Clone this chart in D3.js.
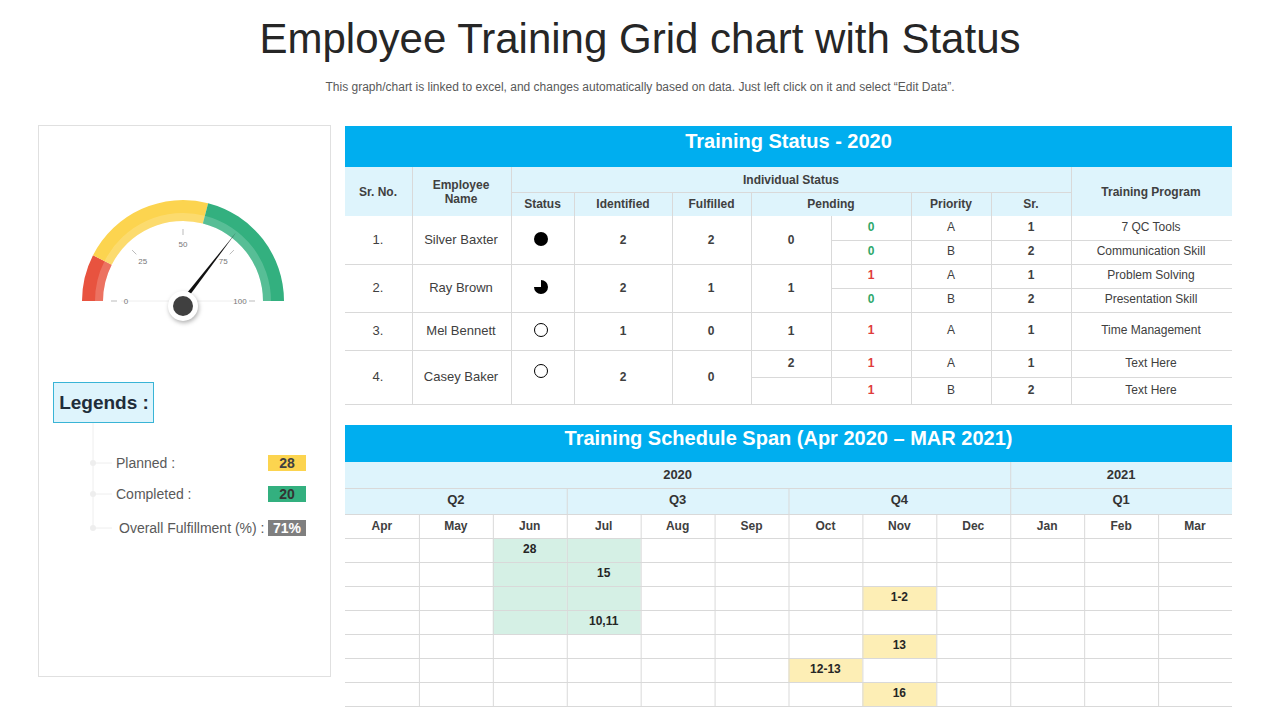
<!DOCTYPE html>
<html>
<head>
<meta charset="utf-8">
<title>Employee Training Grid chart with Status</title>
<script src="https://cdn.jsdelivr.net/npm/d3@7"></script>
<style>
  body { margin: 0; background: #fff; }
  text { font-family: "Liberation Sans", Arial, sans-serif; }
</style>
</head>
<body>
<svg id="chart" width="1280" height="720"></svg>
<script>
  // ---- data ----
  var employees = ["Silver  Baxter", "Ray Brown", "Mel Bennett", "Casey Baker"];
  var statusFill = [1, 0.75, 0, 0];            // fraction of status pie filled
  var identified = [2, 2, 1, 2];
  var fulfilled = [2, 1, 0, 0];
  var pending = [0, 1, 1, 2];
  var programs = [ // [employee index, pending, priority, sr, program]
    [0, 0, "A", 1, "7 QC Tools"],
    [0, 0, "B", 2, "Communication Skill"],
    [1, 1, "A", 1, "Problem Solving"],
    [1, 0, "B", 2, "Presentation Skill"],
    [2, 1, "A", 1, "Time Management"],
    [3, 1, "A", 1, "Text Here"],
    [3, 1, "B", 2, "Text Here"]
  ];
  var months = ["Apr","May","Jun","Jul","Aug","Sep","Oct","Nov","Dec","Jan","Feb","Mar"];
  var quarters = [["Q2", 3], ["Q3", 3], ["Q4", 3], ["Q1", 3]];
  var years = [["2020", 9], ["2021", 3]];
  var planned = [ // [month index, row, label]  (green)
    [2, 0, "28"], [2, 1, ""], [2, 2, ""], [2, 3, ""],
    [3, 0, ""], [3, 1, "15"], [3, 2, ""], [3, 3, "10,11"]
  ];
  var scheduled = [[7, 2, "1-2"], [7, 4, "13"], [6, 5, "12-13"], [7, 6, "16"]];
  var gaugeBands = [[0, 15, "#e8533f"], [15, 58, "#fcd44f"], [58, 100, "#33b07f"]];
  var gaugeTicks = [0, 25, 50, 75, 100];
  var fulfillment = 71, plannedTotal = 28, completedTotal = 20;

  var svg = d3.select("#chart");
  var blue = "#00aeef", lightBlue = "#def4fc", grid = "#d9d9d9", txt = "#404040";

  svg.append("text").attr("x", 640).attr("y", 53).attr("text-anchor", "middle")
    .attr("font-size", 42).attr("fill", "#262626").attr("font-family", "Lato, sans-serif")
    .text("Employee Training Grid chart with Status");
  svg.append("text").attr("x", 640).attr("y", 91).attr("text-anchor", "middle")
    .attr("font-size", 12).attr("fill", "#595959")
    .text("This graph/chart is linked to excel, and changes automatically based on data. Just left click on it and select \u201cEdit Data\u201d.");

  // ---- left panel ----
  svg.append("rect").attr("x", 38.5).attr("y", 125.5).attr("width", 292).attr("height", 551)
    .attr("fill", "none").attr("stroke", "#e0e0e0");

  var cx = 183, cy = 301;
  var ang = d3.scaleLinear().domain([0, 100]).range([-Math.PI / 2, Math.PI / 2]);
  var g = svg.append("g").attr("transform", "translate(" + cx + "," + cy + ")");
  gaugeBands.forEach(function (b) {
    g.append("path").attr("fill", b[2])
      .attr("d", d3.arc().innerRadius(80).outerRadius(101).startAngle(ang(b[0])).endAngle(ang(b[1]))());
    g.append("path").attr("fill", "#fff").attr("opacity", 0.18)
      .attr("d", d3.arc().innerRadius(80).outerRadius(88).startAngle(ang(b[0])).endAngle(ang(b[1]))());
  });
  g.append("line").attr("x1", -62).attr("x2", 62).attr("y1", 0).attr("y2", 0).attr("stroke", "#eee");
  gaugeTicks.forEach(function (t) {
    var a = ang(t);
    g.append("line").attr("x1", 72 * Math.sin(a)).attr("y1", -72 * Math.cos(a))
      .attr("x2", 66 * Math.sin(a)).attr("y2", -66 * Math.cos(a)).attr("stroke", "#bbb");
    g.append("text").attr("x", 57 * Math.sin(a)).attr("y", -57 * Math.cos(a) + 3)
      .attr("text-anchor", "middle").attr("font-size", 8).attr("fill", "#777").text(t);
  });
  var na = ang(fulfillment);
  g.append("path").attr("fill", "#111")
    .attr("d", "M" + (-2 * Math.cos(na)) + "," + (-2 * Math.sin(na)) +
      "L" + (86 * Math.sin(na)) + "," + (-86 * Math.cos(na)) +
      "L" + (2 * Math.cos(na)) + "," + (2 * Math.sin(na)) + "Z");
  g.append("circle").attr("cy", 5).attr("r", 15).attr("fill", "#fff").style("filter", "drop-shadow(1px 2px 2px rgba(0,0,0,0.3))");
  g.append("circle").attr("cy", 5).attr("r", 10).attr("fill", "#404040");

  svg.append("rect").attr("x", 53.5).attr("y", 382.5).attr("width", 100).attr("height", 40)
    .attr("fill", lightBlue).attr("stroke", "#39b4d6");
  svg.append("text").attr("x", 104).attr("y", 409).attr("text-anchor", "middle").attr("font-size", 19)
    .attr("font-weight", "bold").attr("fill", "#1f2d3a").attr("font-family", "Lato, sans-serif").text("Legends :");
  svg.append("line").attr("x1", 93).attr("x2", 93).attr("y1", 423).attr("y2", 528).attr("stroke", "#eee");
  var legendRows = [["Planned :", plannedTotal, "#fcd44f", "#404040", 463],
                    ["Completed :", completedTotal, "#33b07f", "#333", 494],
                    ["Overall Fulfillment (%) :", fulfillment + "%", "#7f7f7f", "#fff", 528]];
  legendRows.forEach(function (r) {
    svg.append("circle").attr("cx", 93).attr("cy", r[4]).attr("r", 3).attr("fill", "#eee");
    svg.append("line").attr("x1", 93).attr("x2", 112).attr("y1", r[4]).attr("y2", r[4]).attr("stroke", "#eee");
    svg.append("text").attr("x", r[0].length > 15 ? 119 : 116).attr("y", r[4] + 5).attr("font-size", 14)
      .attr("fill", "#595959").text(r[0]);
    svg.append("rect").attr("x", 268).attr("y", r[4] - 8).attr("width", 38).attr("height", 16).attr("fill", r[2]);
    svg.append("text").attr("x", 287).attr("y", r[4] + 5).attr("text-anchor", "middle").attr("font-size", 14)
      .attr("font-weight", "bold").attr("fill", r[3]).text(r[1]);
  });

  // ---- helpers ----
  function cellText(x, y, s, opt) {
    opt = opt || {};
    svg.append("text").attr("x", x).attr("y", y + 4).attr("text-anchor", "middle")
      .attr("font-size", opt.size || 12).attr("font-weight", opt.bold ? "bold" : null)
      .attr("fill", opt.fill || txt).text(s);
  }
  function hline(x1, x2, y) { svg.append("line").attr("x1", x1).attr("x2", x2).attr("y1", y + 0.5).attr("y2", y + 0.5).attr("stroke", grid); }
  function vline(x, y1, y2) { svg.append("line").attr("x1", x + 0.5).attr("x2", x + 0.5).attr("y1", y1).attr("y2", y2).attr("stroke", grid); }

  // ---- table 1 ----
  var L = 345, R = 1232;
  var cols = [345, 412, 511, 574, 672, 751, 831, 911, 991, 1071, 1232];
  svg.append("rect").attr("x", L).attr("y", 126).attr("width", R - L).attr("height", 41).attr("fill", blue);
  cellText((L + R) / 2, 144, "Training Status - 2020", { size: 20, bold: true, fill: "#fff" });
  svg.append("rect").attr("x", L).attr("y", 167).attr("width", R - L).attr("height", 49).attr("fill", lightBlue);
  var hc = "#404040";
  cellText(378, 192, "Sr. No.", { bold: true, fill: hc });
  cellText(461, 185, "Employee", { fill: hc, bold: true });
  cellText(461, 199, "Name", { fill: hc, bold: true });
  cellText(791, 180, "Individual  Status", { bold: true, fill: hc });
  cellText(1151, 192, "Training  Program", { bold: true, fill: hc });
  [["Status", 511, 574], ["Identified", 574, 672], ["Fulfilled", 672, 751], ["Pending", 751, 911],
   ["Priority", 911, 991], ["Sr.", 991, 1071]].forEach(function (h) { cellText((h[1] + h[2]) / 2, 204, h[0], { bold: true, fill: hc }); });
  hline(511, 1071, 192);
  [511, 574, 672, 751, 911, 991].forEach(function (x) { vline(x, 192, 216); });
  vline(412, 167, 216); vline(511, 167, 216); vline(1071, 167, 216);

  var subY = [216, 240, 264, 288, 312, 350, 377, 404];
  var empY = employees.map(function (e, i) {
    var rows = programs.map(function (p, j) { return [p[0], j]; }).filter(function (p) { return p[0] === i; });
    return [subY[rows[0][1]], subY[rows[rows.length - 1][1] + 1]];
  });
  var pie = d3.arc().innerRadius(0).outerRadius(7);
  employees.forEach(function (e, i) {
    var y0 = empY[i][0], y1 = empY[i][1], ym = (y0 + y1) / 2;
    hline(L, 831, y1);
    var sy = i === 3 ? 372 : ym;
    cellText(378, ym, (i + 1) + ".", { size: 13 });
    cellText(461, ym, e, { size: 13 });
    if (statusFill[i] > 0) {
      svg.append("path").attr("transform", "translate(541," + (sy - 1) + ")")
        .attr("d", pie.startAngle(0).endAngle(2 * Math.PI * statusFill[i])()).attr("fill", "#000");
    } else {
      svg.append("circle").attr("cx", 541).attr("cy", sy - 1).attr("r", 6.5).attr("fill", "none").attr("stroke", "#000");
    }
    cellText(623, ym, identified[i], { bold: true });
    cellText(711, ym, fulfilled[i], { bold: true });
    if (i === 3) { cellText(791, subY[5] + 13, pending[i], { bold: true }); hline(751, 831, subY[6]); }
    else cellText(791, ym, pending[i], { bold: true });
  });
  programs.forEach(function (p, j) {
    var y0 = subY[j], y1 = subY[j + 1], ym = (y0 + y1) / 2;
    hline(831, R, y1);
    cellText(871, ym - 1, p[1], { bold: true, fill: p[1] ? "#e03c3c" : "#2ea86b" });
    cellText(951, ym - 1, p[2]);
    cellText(1031, ym - 1, p[3], { bold: true });
    cellText(1151, ym - 1, p[4]);
  });
  [412, 511, 574, 672, 751, 831, 911, 991, 1071].forEach(function (x) { vline(x, 216, 404); });

  // ---- table 2 ----
  var x = d3.scaleBand().domain(d3.range(12)).range([L, R]);
  var bw = x.bandwidth();
  var rowY = d3.scaleLinear().domain([0, 7]).range([538, 706]);
  svg.append("rect").attr("x", L).attr("y", 425).attr("width", R - L).attr("height", 37).attr("fill", blue);
  cellText((L + R) / 2, 441, "Training Schedule Span (Apr 2020 \u2013 MAR 2021)", { size: 20, bold: true, fill: "#fff" });
  svg.append("rect").attr("x", L).attr("y", 462).attr("width", R - L).attr("height", 52).attr("fill", lightBlue);
  hline(L, R, 488); hline(L, R, 514);
  var k = 0;
  years.forEach(function (yv) {
    cellText(x(k) + bw * yv[1] / 2, 475, yv[0], { bold: true, size: 13, fill: "#333" });
    if (k) vline(x(k), 462, 488);
    k += yv[1];
  });
  k = 0;
  quarters.forEach(function (q) {
    cellText(x(k) + bw * q[1] / 2, 500, q[0], { bold: true, size: 13, fill: "#333" });
    if (k) vline(x(k), 488, 514);
    k += q[1];
  });
  planned.forEach(function (c) {
    svg.append("rect").attr("x", x(c[0])).attr("y", rowY(c[1])).attr("width", bw).attr("height", rowY(1) - rowY(0)).attr("fill", "#d5f0e5");
  });
  scheduled.forEach(function (c) {
    svg.append("rect").attr("x", x(c[0])).attr("y", rowY(c[1])).attr("width", bw).attr("height", rowY(1) - rowY(0)).attr("fill", "#fdeeb5");
  });
  d3.range(8).forEach(function (r) { hline(L, R, rowY(r)); });
  d3.range(1, 12).forEach(function (i) { vline(x(i), 514, 706); });
  months.forEach(function (m, i) { cellText(x(i) + bw / 2, 526, m, { bold: true, fill: "#404040" }); });
  planned.concat(scheduled).forEach(function (c) {
    if (c[2]) cellText(x(c[0]) + bw / 2, rowY(c[1] + 0.5) - 1, c[2], { bold: true, fill: "#262626" });
  });
</script>
</body>
</html>
